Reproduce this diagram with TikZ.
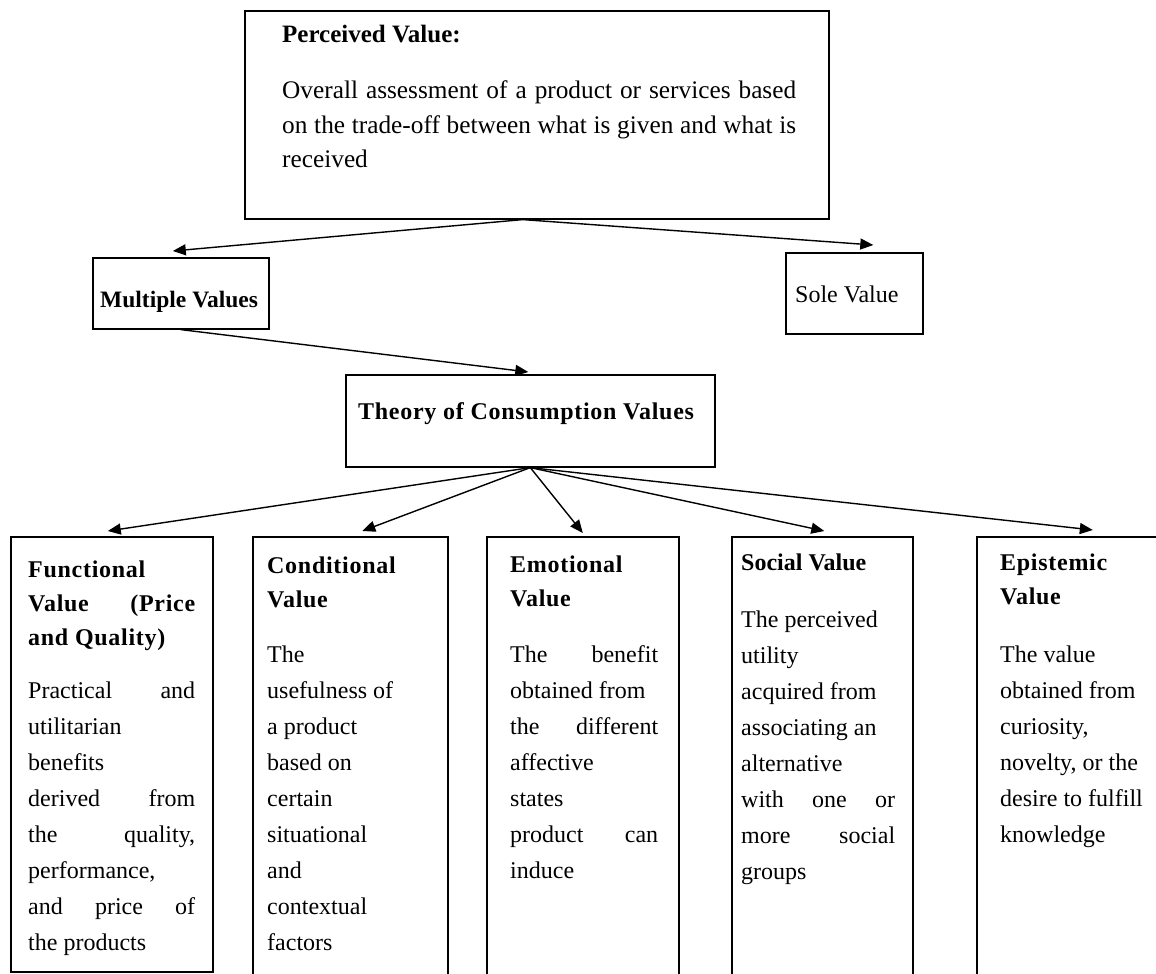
\documentclass[tikz,border=0pt]{standalone}
\usepackage{fontspec}
\setmainfont{Liberation Serif}
\usetikzlibrary{arrows.meta, positioning, calc}

\newcommand{\hdfont}{\fontsize{24}{34}\selectfont\bfseries\addfontfeature{LetterSpace=3}}
\newcommand{\bodyfont}{\fontsize{24}{36}\selectfont}
\newcommand{\stretchline}[1]{\makebox[\linewidth][s]{#1}}

\begin{document}
\begin{tikzpicture}[
        x=1pt, y=-1pt,
        box/.style={draw, line width=1.6pt, anchor=north west, inner sep=0pt},
        hd/.style={anchor=base west, inner sep=0pt, font=\hdfont},
        body/.style={anchor=base west, inner sep=0pt, font=\bodyfont},
        arr/.style={-{Triangle[length=13pt, width=11pt]}, line width=1.4pt}
    ]
        \clip (0,0) rectangle (1156,974);
        \fill[white] (0,0) rectangle (1156,974);

        % Perceived value
        \node[box, minimum width=584pt, minimum height=208pt] (pv) at (244,10) {};
        \node[anchor=base west, inner sep=0pt, font=\fontsize{25}{35}\selectfont\bfseries] (pvhd) at (282,43) {Perceived Value:};
        \node[anchor=base west, inner sep=0pt, font=\fontsize{25.3}{35}\selectfont] (pvtxt) at (282,98)
            {\parbox[t]{514pt}{\stretchline{Overall assessment of a product or services based}\\
             \stretchline{on the trade-off between what is given and what is}\\
             received}};

        % Multiple / sole value
        \node[box, minimum width=176pt, minimum height=71pt] (mv) at (92,257) {};
        \node[anchor=base west, inner sep=0pt, font=\fontsize{23.5}{30}\selectfont\bfseries] (mvtxt) at (100,307) {Multiple Values};
        \node[box, minimum width=137pt, minimum height=81pt] (sv) at (785,252) {};
        \node[anchor=base west, inner sep=0pt, font=\fontsize{24}{30}\selectfont] (svtxt) at (795,302) {Sole Value};

        \draw[arr] ($(pv.south)+(-14,0)$) -- ($(mv.north)+(-8,-6)$);
        \draw[arr] ($(pv.south)+(-14,0)$) -- ($(sv.north)+(19,-7)$);

        % Theory of consumption values
        \node[box, minimum width=369pt, minimum height=92pt] (tcv) at (345,374) {};
        \node[hd] (tcvtxt) at (358,419) {Theory of Consumption Values};
        \draw[arr] (mv.south) -- ($(tcv.north)+(-2,-2)$);

        % Functional value
        \node[box, minimum width=202pt, minimum height=435pt] (fv) at (10,536) {};
        \node[hd] (fvhd) at (28,577) {\parbox[t]{167pt}{Functional\\ \stretchline{Value (Price}\\ and Quality)}};
        \node[body] (fvtxt) at (28,698) {\parbox[t]{167pt}{\stretchline{Practical and}\\ utilitarian\\ benefits\\
            \stretchline{derived from}\\ \stretchline{the quality,}\\ performance,\\ \stretchline{and price of}\\ the products}};

        % Conditional value
        \node[box, minimum width=195pt, minimum height=460pt] (cv) at (252,536) {};
        \node[hd] (cvhd) at (267,573) {\parbox[t]{150pt}{Conditional\\ Value}};
        \node[body] (cvtxt) at (267,662) {\parbox[t]{150pt}{The\\ usefulness of\\ a product\\ based on\\ certain\\
            situational\\ and\\ contextual\\ factors}};

        % Emotional value
        \node[box, minimum width=192pt, minimum height=460pt] (ev) at (486,536) {};
        \node[hd] (evhd) at (510,572) {\parbox[t]{148pt}{Emotional\\ Value}};
        \node[body] (evtxt) at (510,662) {\parbox[t]{148pt}{\stretchline{The benefit}\\ obtained from\\ \stretchline{the different}\\
            affective\\ states\\ \stretchline{product can}\\ induce}};

        % Social value
        \node[box, minimum width=181pt, minimum height=460pt] (sov) at (731,536) {};
        \node[body, font=\fontsize{24}{34}\selectfont\bfseries] (sovhd) at (741,570) {Social Value};
        \node[body] (sovtxt) at (741,627) {\parbox[t]{154pt}{The perceived\\ utility\\ acquired from\\ associating an\\
            alternative\\ \stretchline{with one or}\\ \stretchline{more social}\\ groups}};

        % Epistemic value
        \node[box, minimum width=228pt, minimum height=460pt] (epv) at (976,536) {};
        \node[hd] (epvhd) at (1000,570) {\parbox[t]{150pt}{Epistemic\\ Value}};
        \node[body] (epvtxt) at (1000,662) {\parbox[t]{150pt}{The value\\ obtained from\\ curiosity,\\ novelty, or the\\
            desire to fulfill\\ knowledge}};

        % Arrows to the five values
        \draw[arr] (tcv.south) -- ($(fv.north)+(-4,-5)$);
        \draw[arr] (tcv.south) -- ($(cv.north)+(12,-5)$);
        \draw[arr] (tcv.south) -- ($(ev.north)+(0,-3)$);
        \draw[arr] (tcv.south) -- ($(sov.north)+(2,-5)$);
        \draw[arr] (tcv.south) -- ($(epv.north)+(2,-6)$);
    \end{tikzpicture}
\end{document}
